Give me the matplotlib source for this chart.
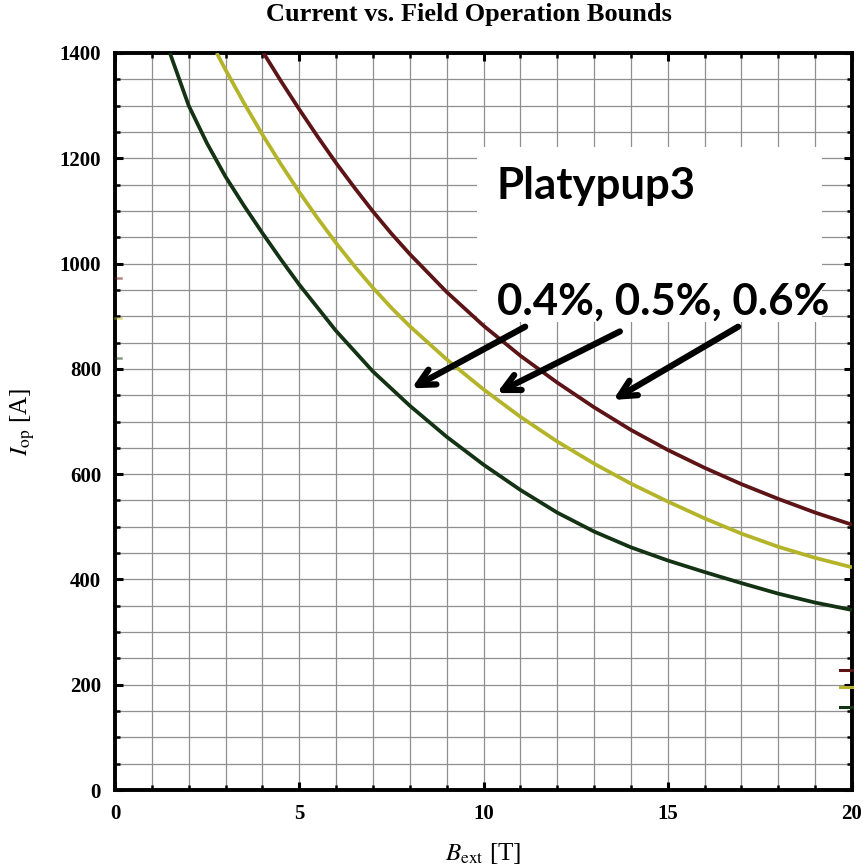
import numpy as np
import matplotlib
matplotlib.use("Agg")
import matplotlib.pyplot as plt
from matplotlib.patches import Rectangle

plt.rcParams['mathtext.fontset'] = 'stix'

# curves (B_ext [T], I_op [A])
red_x = [4.03, 4.5, 5, 5.5, 6, 6.5, 7, 7.5, 8, 9, 10, 11, 12, 13, 14, 15, 16, 17, 18, 19, 20]
red_y = [1400, 1347, 1293, 1241, 1191, 1144, 1099, 1057, 1018, 946, 882, 825, 774, 727, 684, 646, 612, 581, 553, 527, 504]

yel_x = [2.76, 3, 3.5, 4, 4.5, 5, 5.5, 6, 6.5, 7, 7.5, 8, 9, 10, 11, 12, 13, 14, 15, 16, 17, 18, 19, 20]
yel_y = [1400, 1368, 1305, 1245, 1189, 1136, 1086, 1039, 995, 954, 916, 881, 818, 761, 709, 662, 620, 582, 548, 516, 487, 462, 441, 423]

grn_x = [1.49, 2, 2.5, 3, 3.5, 4, 4.5, 5, 6, 7, 8, 9, 10, 11, 12, 13, 14, 15, 16, 17, 18, 19, 20]
grn_y = [1400, 1300, 1228, 1165, 1110, 1058, 1008, 960, 872, 795, 730, 671, 618, 570, 527, 491, 461, 436, 414, 393, 373, 356, 342]

# small coloured marks on the frame edges (red, yellow, green)
left_marks = [973, 897, 821]
right_marks = [228, 196, 158]

# arrows: tail -> head
arrow_tails = [(11.13, 880), (13.70, 871), (16.91, 880)]
arrow_heads = [(8.05, 763), (10.36, 754), (13.52, 741)]

colors = ['#5c1416', '#b4b42a', '#143214']

fig = plt.figure(figsize=(8.66, 8.68), dpi=100)
ax = fig.add_axes([115/866, 78/868, 737/866, 737/868])

ax.set_xlim(0, 20)
ax.set_ylim(0, 1400)
ax.set_xticks(np.arange(0, 21, 5))
ax.set_xticks(np.arange(0, 21, 1), minor=True)
ax.set_yticks(np.arange(0, 1401, 200))
ax.set_yticks(np.arange(0, 1401, 50), minor=True)
ax.grid(which='both', color='#8f8f8f', lw=0.9, zorder=0)
ax.set_axisbelow(True)

for s in ax.spines.values():
    s.set_linewidth(2.8)
ax.tick_params(which='both', direction='in', top=True, right=True, pad=10)
ax.tick_params(which='major', length=6, width=2.2)
ax.tick_params(which='minor', length=3.5, width=1.8)
for lab in ax.get_xticklabels() + ax.get_yticklabels():
    lab.set_fontfamily('Liberation Serif')
    lab.set_fontweight('bold')
    lab.set_fontsize(15)

# white patch behind annotation text
ax.add_patch(Rectangle((9.82, 889), 9.37, 332, facecolor='white', edgecolor='none', zorder=1))

for xs, ys, c in zip([red_x, yel_x, grn_x], [red_y, yel_y, grn_y], colors):
    ax.plot(xs, ys, color=c, lw=2.7, zorder=3, solid_capstyle='butt')

for y, c in zip(left_marks, colors):
    ax.plot([0, 0.15], [y, y], color=c, lw=1.8, alpha=0.5, zorder=3, clip_on=False)
for y, c in zip(right_marks, colors):
    ax.plot([19.68, 20], [y, y], color=c, lw=2.2, zorder=3, clip_on=False)

ax.text(10.36, 1123, 'Platypup3', family='Lato', fontweight='bold', fontsize=31.5,
        ha='left', va='baseline', zorder=4)
ax.text(10.36, 902, '0.4%, 0.5%, 0.6%', family='Lato', fontweight='bold', fontsize=31.5,
        ha='left', va='baseline', zorder=4)

for t, h in zip(arrow_tails, arrow_heads):
    ax.annotate('', xy=h, xytext=t, zorder=5,
                arrowprops=dict(arrowstyle='->,head_length=1.2,head_width=0.6',
                                color='black', lw=4.5, shrinkA=0, shrinkB=0))

fig.text(469/866, 1 - 14/868, 'Current vs. Field Operation Bounds', family='Liberation Serif',
         fontweight='bold', fontsize=19, ha='center', va='center')
ax.set_xlabel(r'$B_{\rm ext}$ [T]', fontsize=18, family='Liberation Serif', labelpad=12)
ax.set_ylabel(r'$I_{\rm op}$ [A]', fontsize=18, family='Liberation Serif', labelpad=16)

fig.savefig('out.png', dpi=100)
